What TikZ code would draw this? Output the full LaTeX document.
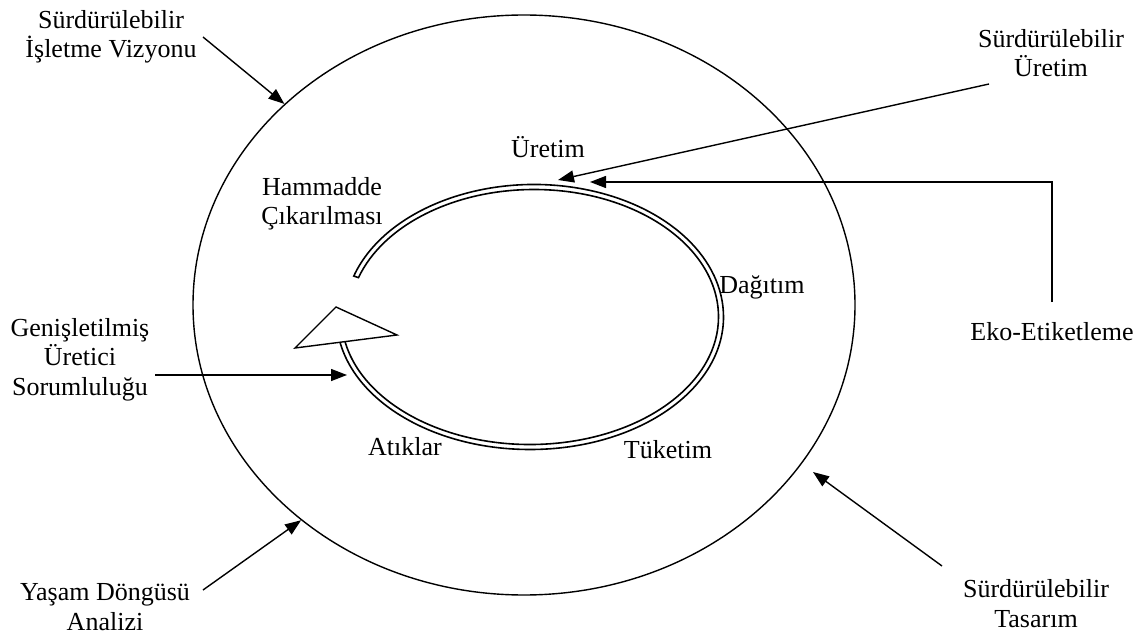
\documentclass[tikz,border=0pt]{standalone}
\usepackage{fontspec}
\setmainfont{Liberation Serif}
\usetikzlibrary{arrows.meta,shapes.geometric}
\begin{document}
\begin{tikzpicture}[x=1pt,y=-1pt,
  lbl/.style={font=\fontsize{26}{29.5}\selectfont, inner sep=0pt, align=center, anchor=base},
  arr/.style={line width=1.4pt, -{Triangle[length=16pt,width=12pt]}},
  band/.style={line width=1.6pt, fill=white},
]
\useasboundingbox (0,0) rectangle (1138,639);

% outer frame: the sustainable business ellipse
\node[draw, line width=1.4pt, ellipse, minimum width=662pt, minimum height=580pt, inner sep=0pt] (outer) at (524,305) {};

% life-cycle spiral drawn as a closed double band
\draw[band]
  ([shift={(198:189.5 and 132.5)}]534,317)
    arc[start angle=198,end angle=360,x radius=189.5,y radius=132.5]
    arc[start angle=0,end angle=171,x radius=193.5,y radius=132.5]
  -- ([shift={(171:188.5 and 127.5)}]530,317)
    arc[start angle=171,end angle=0,x radius=188.5,y radius=127.5]
    arc[start angle=360,end angle=198,x radius=184.5,y radius=127.5]
  -- cycle;

% hollow arrow head closing the cycle
\draw[line width=1.4pt, fill=white] (295,348) -- (336,307) -- (397,335) -- cycle;

% points on the spiral where outside influences arrive
\coordinate (sp-uretim) at (558,180);
\coordinate (sp-eko)    at (590,182);
\coordinate (sp-genis)  at (347,375);

% stage labels inside the cycle (anchored at the last line's baseline)
\node[lbl] (hammadde) at (322,225) {Hammadde\\Çıkarılması};
\node[lbl] (uretim)   at (548,158) {Üretim};
\node[lbl] (dagitim)  at (762,293) {Dağıtım};
\node[lbl] (tuketim)  at (668,458) {Tüketim};
\node[lbl] (atiklar)  at (405,455) {Atıklar};

% outer concept labels
\node[lbl] (vizyon)  at (111,58)  {Sürdürülebilir\\İşletme Vizyonu};
\node[lbl] (surdur)  at (1051,77) {Sürdürülebilir\\Üretim};
\node[lbl] (eko)     at (1052,340) {Eko-Etiketleme};
\node[lbl] (genis)   at (80,395)  {Genişletilmiş\\Üretici\\Sorumluluğu};
\node[lbl] (yasam)   at (105,630) {Yaşam Döngüsü\\Analizi};
\node[lbl] (tasarim) at (1036,627) {Sürdürülebilir\\Tasarım};

% connector tails
\coordinate (vizyon-t)  at (203,37);
\coordinate (surdur-t)  at (989,84);
\coordinate (eko-t)     at (1052,302);
\coordinate (genis-t)   at (155,375);
\coordinate (yasam-t)   at (203,590);
\coordinate (tasarim-t) at (942,566);
\coordinate (tasarim-h) at (813,472);

% connectors
\draw[arr] (vizyon-t) -- (outer.140.7);
\draw[arr] (surdur-t) -- (sp-uretim);
\draw[arr] (eko-t) |- (sp-eko);
\draw[arr] (genis-t) -- (sp-genis);
\draw[arr] (yasam-t) -- (outer.224);
\draw[arr] (tasarim-t) -- (tasarim-h);
\end{tikzpicture}
\end{document}
